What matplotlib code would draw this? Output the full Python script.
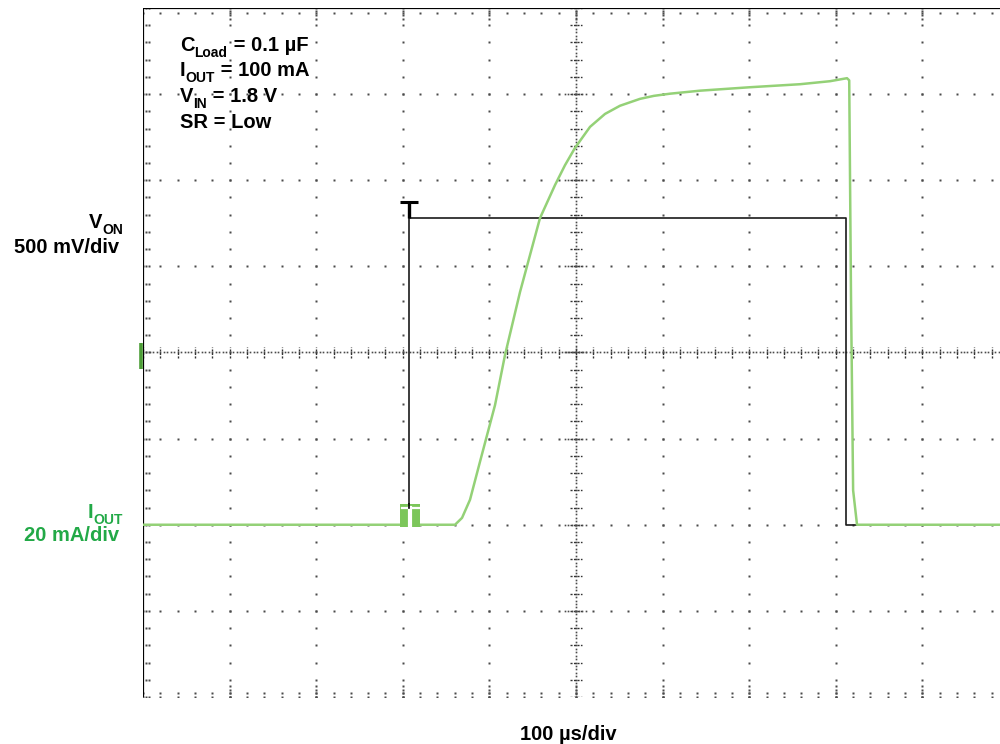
import numpy as np
import matplotlib
matplotlib.use("Agg")
import matplotlib.pyplot as plt
from matplotlib.patches import Rectangle

plt.rcParams['font.family'] = ['Liberation Sans', 'DejaVu Sans']

# ---------------- data (read from the scope shot) ----------------
time_per_div_us = 100.0
von_per_div_v = 0.5
iout_per_div_ma = 20.0
zero_offset_div = -2.0          # both channels' ground level (divisions)

von_t_us = [0, 307.5, 307.5, 812, 812, 1000]
von_v = [0, 0, 1.78, 1.78, 0, 0]

iout_t_us = [0, 360.3, 368.4, 377.6, 389.1, 406.5, 418, 435.3, 458.4, 475.8, 487.3,
             498.8, 516.2, 533.5, 550.8, 573.9, 590, 608.5, 643.2, 700.9, 758.7, 793.3,
             812.9, 815.5, 817.6, 820, 824.5, 1000]
iout_ma = [0, 0, 1.6, 5.8, 14.6, 27.8, 39.4, 54, 71.2, 78.9, 83.5,
           87.5, 92.4, 95.4, 97.3, 98.9, 99.6, 100.1, 100.8, 101.6, 102.3, 103,
           103.7, 103.2, 52, 8, 0, 0]

trig_t_us = 307.5

# (base, subscript, rest)
notes = [('C', 'Load', ' = 0.1 µF'), ('I', 'OUT', ' = 100 mA'),
         ('V', 'IN', ' = 1.8 V'), ('SR = Low', '', '')]

# ---------------- colours ----------------
green_trace = '#94d177'
green_text = '#22a947'
green_mark = '#4c9e36'
dot_col = '#4a4a4a'

W, H = 1000, 744
fig = plt.figure(figsize=(W / 100, H / 100), dpi=100)
ax = fig.add_axes([143 / W, 1 - 697 / H, 866 / W, 689 / H])
ax.set_xlim(0, 10)
ax.set_ylim(-4, 4)
ax.axis('off')

ms = 1.5
def dots(x, y, m=ms):
    ax.plot(x, y, ls='none', marker='s', ms=m, mec='none', mfc=dot_col)

# grid dots on the major lines
for k in range(1, 10):
    if k == 5:
        continue
    ys = np.arange(-4, 4.001, 0.2)
    dots(np.full_like(ys, k), ys)
for m in range(-3, 4):
    if m == 0:
        continue
    xs = np.arange(0, 10.001, 0.2)
    dots(xs, np.full_like(xs, m))
# bottom row dots
xs = np.arange(0, 10.001, 0.2)
for yy in (-3.995, -3.955):
    dots(xs, np.full_like(xs, yy))
for k in range(1, 10):
    dots([k] * 4, [-3.995, -3.955, -3.915, -3.875])
# top ticks
dots(xs, np.full_like(xs, 3.94))
for k in range(1, 10):
    dots([k] * 3, [3.97, 3.92, 3.87])
# left ticks
ys = np.arange(-4, 4.001, 0.2)
for xx in (0.03, 0.07):
    dots(np.full_like(ys, xx), ys)

# centre cross
fine = np.arange(0, 10.001, 0.04)
dots(fine, np.zeros_like(fine), 1.2)
fine_y = np.arange(-4, 4.001, 0.04)
dots(np.full_like(fine_y, 5), fine_y, 1.2)
for xx in np.arange(0, 10.001, 0.2):
    ax.plot([xx, xx], [-0.065, 0.065], color='#333333', lw=1.0, ls=(0, (1.5, 1)))
for yy in np.arange(-4, 4.001, 0.2):
    ax.plot([4.935, 5.065], [yy, yy], color='#333333', lw=1.0, ls=(0, (1.5, 1)))
for m in range(-3, 4):
    f = np.arange(4.87, 5.131, 0.04)
    dots(f, np.full_like(f, m), 1.2)

# border
ax.plot([0, 0], [-4.01, 4], color='black', lw=1.6, solid_capstyle='butt')
ax.plot([0, 10], [4, 4], color='black', lw=1.6, solid_capstyle='butt')

# traces
vt = np.array(von_t_us) / time_per_div_us
vy = np.array(von_v) / von_per_div_v + zero_offset_div
it = np.array(iout_t_us) / time_per_div_us
iy = np.array(iout_ma) / iout_per_div_ma + zero_offset_div

ax.plot(vt, vy, color='#1a1a1a', lw=1.2, zorder=5)
ax.plot(it, iy, color=green_trace, lw=1.8, zorder=6, solid_joinstyle='round')

# trigger marks
tx = trig_t_us / time_per_div_us
top = max(vy)
ax.plot([tx - 0.11, tx + 0.1], [top + 0.19, top + 0.19], color='black', lw=2.2,
        solid_capstyle='butt', zorder=7)
ax.plot([tx, tx], [top + 0.19, top], color='black', lw=2.4, solid_capstyle='butt', zorder=7)

ax.add_patch(Rectangle((tx - 0.105, zero_offset_div - 0.03), 0.23, 0.275,
                       facecolor='#7cc65a', edgecolor='none', zorder=8))
ax.plot([tx - 0.09, tx + 0.11], [zero_offset_div + 0.2, zero_offset_div + 0.2],
        color='white', lw=1.6, zorder=9)
ax.plot([tx + 0.01, tx + 0.01], [zero_offset_div + 0.2, zero_offset_div - 0.005],
        color='white', lw=3.0, zorder=9)
ax.plot([tx, tx], [zero_offset_div + 0.245, zero_offset_div + 0.2], color='black',
        lw=1.2, zorder=10)

# channel position marker on the left edge
ax.plot([-0.025, -0.025], [0.116, -0.186], color=green_mark, lw=2.6, clip_on=False,
        solid_capstyle='butt')

# texts
fs = 14.5
sub_fs = 10.0
renderer = fig.canvas.get_renderer()

def fx(px):
    return px / W
def fy(py):
    return 1 - py / H

def sub_text(x_px, base_y, base, sub, rest, color, ha='left'):
    kw = dict(fontweight='bold', va='baseline', ha='left', color=color)
    pieces = [(base, fs, 0), (sub, sub_fs, 6), (rest, fs, 0)]
    widths = []
    for s, size, dy in pieces:
        if not s:
            widths.append(0)
            continue
        t = fig.text(0, 0, s, fontsize=size, **kw)
        widths.append(t.get_window_extent(renderer).width)
        t.remove()
    total = sum(widths)
    x = x_px - total if ha == 'right' else x_px
    for (s, size, dy), w in zip(pieces, widths):
        if s:
            fig.text(fx(x), fy(base_y + dy), s, fontsize=size, **kw)
        x += w

for i, (b, s, r) in enumerate(notes):
    sub_text(180, 51 + i * 25.5, b, s, r, 'black')

sub_text(123, 228, 'V', 'ON', '', 'black', ha='right')
fig.text(fx(119), fy(253), '500 mV/div', fontsize=fs, fontweight='bold',
         ha='right', va='baseline', color='black')
sub_text(123, 518, 'I', 'OUT', '', green_text, ha='right')
fig.text(fx(119), fy(541), '20 mA/div', fontsize=fs, fontweight='bold',
         ha='right', va='baseline', color=green_text)
fig.text(fx(568), fy(740), '100 µs/div', fontsize=fs, fontweight='bold',
         ha='center', va='baseline', color='black')

fig.savefig('out.png', dpi=100, facecolor='white')
